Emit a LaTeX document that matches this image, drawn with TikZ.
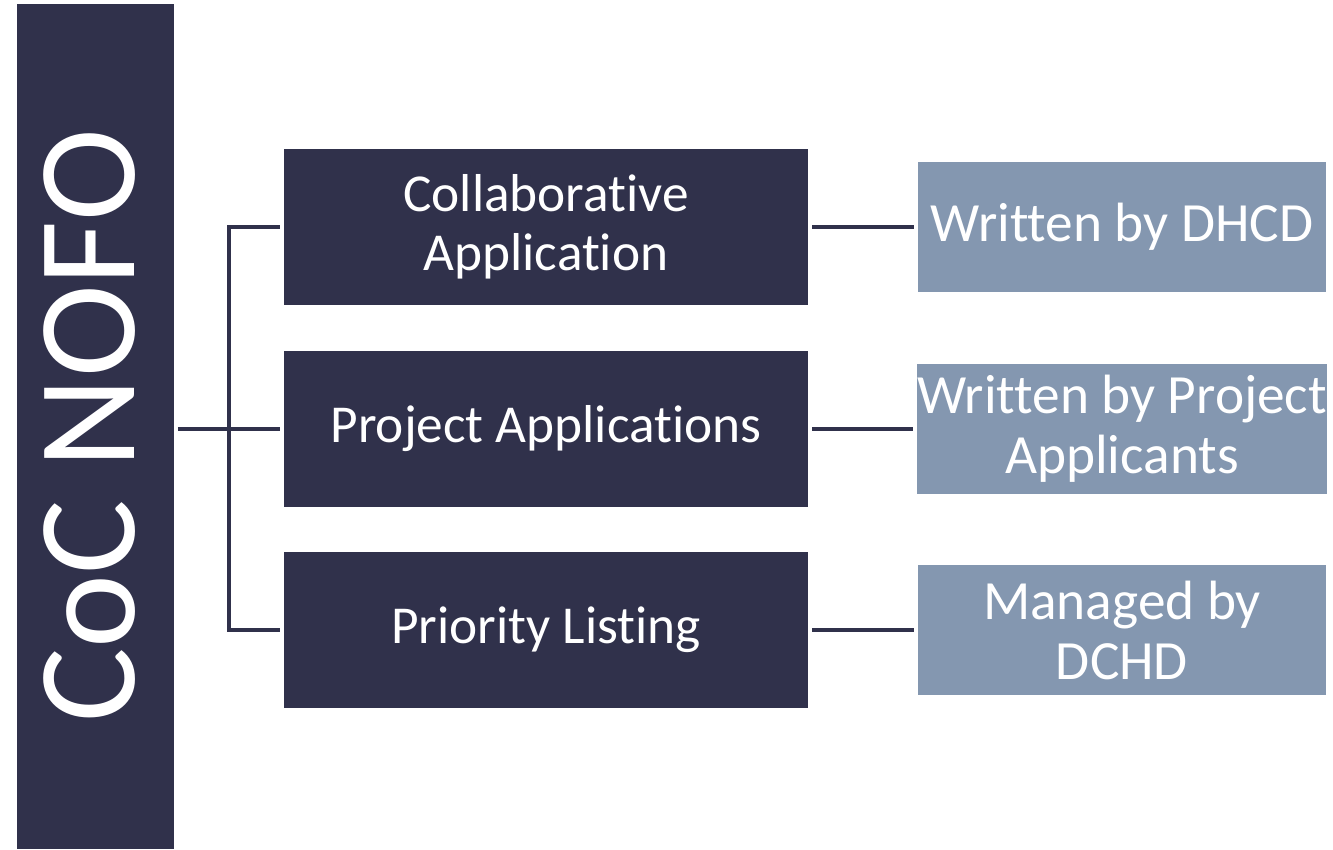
\documentclass[tikz,border=0pt]{standalone}
\usepackage{fontspec}
\setmainfont{Carlito}[Ligatures={NoCommon,NoRequired,NoContextual}, RawFeature=-liga, RawFeature=-clig, RawFeature=-ccmp]
\usetikzlibrary{positioning}
\definecolor{navy}{HTML}{30314B}
\definecolor{steel}{HTML}{8497B0}
\tikzset{
  part/.style={fill=navy, text=white, align=center, minimum width=393pt, minimum height=117pt,
    font=\fontsize{40}{44}\selectfont},
  who/.style={fill=steel, text=white, align=center, minimum width=306pt, minimum height=97.5pt,
    font=\fontsize{41.5}{45}\selectfont, inner sep=0pt},
  link/.style={navy, line width=2.5pt, shorten <=3pt, shorten >=3pt}
}
\begin{document}
\begin{tikzpicture}[x=0.75pt, y=-0.75pt]
  \useasboundingbox (0,0) rectangle (1333,849);
  \node [fill=navy, minimum width=117.75pt, minimum height=633.75pt, inner sep=0pt] (nofo) at (95,426.5) {};
  \node [text=white, rotate=90, font=\fontsize{105}{110}\selectfont] (title) at (90,426) {CoC NOFO};
  % middle column
  \node [part] (collab) at (546,227) {Collaborative\\Application};
  \node [part] (project) at (546,429) {Project Applications};
  \node [part] (priority) at (546,630) {Priority Listing};
  % right column
  \node [who] (dhcd) at (1122,227) {Written by DHCD};
  \node [who] (applicants) at (1122,429) {Written by Project\\Applicants};
  \node [who] (dchd) at (1122,630) {Managed by\\DCHD};
  % connectors
  \coordinate (fork) at (229,429);
  \draw [link] (nofo.east |- project.west) -- (project.west);
  \draw [link] (collab.west) -| (fork) |- (priority.west);
  \draw [link] (collab.east) -- (dhcd.west);
  \draw [link] (project.east) -- (applicants.west);
  \draw [link] (priority.east) -- (dchd.west);
\end{tikzpicture}
\end{document}
